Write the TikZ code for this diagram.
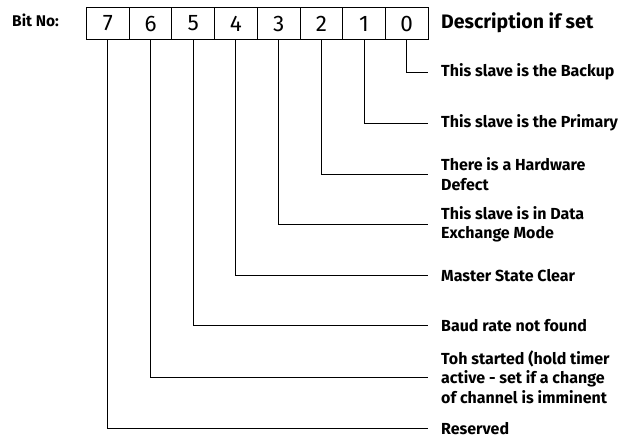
\documentclass[tikz,border=0pt]{standalone}
\usepackage{fontspec}
\setmainfont{Fira Sans}
\begin{document}
\begin{tikzpicture}[x=1pt,y=-1pt,
 cell/.style={draw, line width=1pt, minimum width=42.7pt, minimum height=32pt, inner sep=0pt, anchor=north west, font=\fontsize{22.5}{24}\selectfont},
 desc/.style={anchor=west, inner sep=0pt, align=left, font=\bfseries\fontsize{16}{19.5}\selectfont},
 conn/.style={line width=1pt}]
\useasboundingbox (0,0) rectangle (631,439);
\node[anchor=west, inner sep=0pt, font=\bfseries\fontsize{15.5}{17}\selectfont] (bitno) at (12,20) {Bit No:};
\node[cell] (c7) at (86.0,7) {7};
\node[cell] (c6) at (128.7,7) {6};
\node[cell] (c5) at (171.4,7) {5};
\node[cell] (c4) at (214.1,7) {4};
\node[cell] (c3) at (256.8,7) {3};
\node[cell] (c2) at (299.5,7) {2};
\node[cell] (c1) at (342.2,7) {1};
\node[cell] (c0) at (384.9,7) {0};
\node[anchor=west, inner sep=0pt, font=\bfseries\fontsize{19.5}{22}\selectfont] (head) at (441,23) {Description if set};
\node[desc] (t0) at (441,72) {This slave is the Backup};
\node[desc] (t1) at (441,123) {This slave is the Primary};
\node[desc] (t2) at (441,174) {There is a Hardware\\Defect};
\node[desc] (t3) at (441,224.5) {This slave is in Data\\Exchange Mode};
\node[desc] (t4) at (441,275.5) {Master State Clear};
\node[desc] (t5) at (441,325.5) {Baud rate not found};
\node[desc] (t6) at (441,377) {Toh started (hold timer\\active - set if a change\\of channel is imminent};
\node[desc] (t7) at (441,428.5) {Reserved};
\foreach \k in {0,...,7}{
  \draw[conn] (c\k.south) |- ([xshift=-13pt]t\k.west);
}
\end{tikzpicture}
\end{document}
